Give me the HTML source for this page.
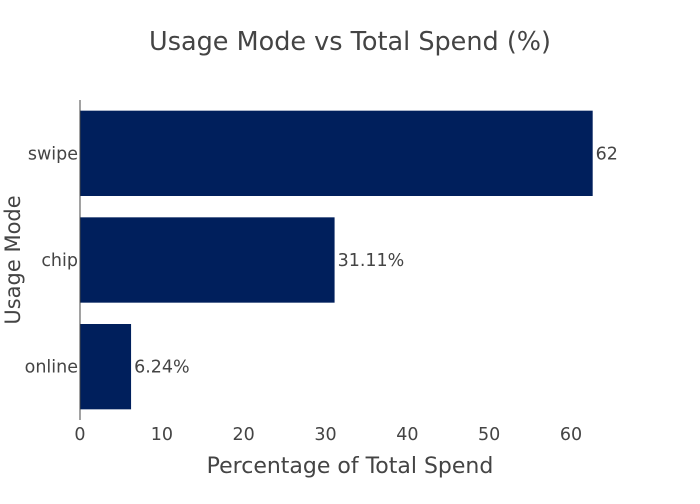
<!DOCTYPE html>
<html><head><meta charset="utf-8"><style>
body{margin:0;background:#fff;font-family:"DejaVu Sans",sans-serif;}
svg text{font-family:"DejaVu Sans","Liberation Sans",sans-serif;fill:#444;}
</style></head><body>
<svg id="chart" width="700" height="500">
<text x="350" y="50" text-anchor="middle" font-size="25.5">Usage Mode vs Total Spend (%)</text>
<g id="bars"></g>
<g id="xticks"></g>
<g id="yticks"></g>
<line x1="80" y1="100" x2="80" y2="420" stroke="#444" stroke-width="1"/>
<text x="350" y="473" text-anchor="middle" font-size="22">Percentage of Total Spend</text>
<text x="0" y="0" transform="translate(20,260) rotate(-90)" text-anchor="middle" font-size="21">Usage Mode</text>
</svg>
<script>
const categories = ["swipe","chip","online"];
const values = [62.65,31.11,6.24];
const valueLabels = ["62","31.11%","6.24%"];
const xTicks = [0,10,20,30,40,50,60];
const NS="http://www.w3.org/2000/svg";
const x0=80, pxPerUnit=(571-80)/60, plotTop=100, plotBottom=420;
const band=(plotBottom-plotTop)/categories.length;
function xs(v){return x0+v*pxPerUnit;}
function ys(i){return plotTop+band*i;}
const bars=document.getElementById('bars');
categories.forEach((c,i)=>{
  const r=document.createElementNS(NS,'rect');
  r.setAttribute('x',x0);r.setAttribute('y',ys(i)+band*0.1);
  r.setAttribute('width',xs(values[i])-x0);r.setAttribute('height',band*0.8);
  r.setAttribute('fill','#001f5c');
  
  
  bars.appendChild(r);
  const t=document.createElementNS(NS,'text');
  t.setAttribute('x',xs(values[i])+3);t.setAttribute('y',ys(i)+band/2+6);
  t.setAttribute('font-size','17.5');t.textContent=valueLabels[i];
  
  
  bars.appendChild(t);
  const l=document.createElementNS(NS,'text');
  l.setAttribute('x',78);l.setAttribute('y',ys(i)+band/2+6);
  l.setAttribute('text-anchor','end');l.setAttribute('font-size','17.5');l.textContent=c;
  
  
  document.getElementById('yticks').appendChild(l);
});
xTicks.forEach(v=>{
  const t=document.createElementNS(NS,'text');
  t.setAttribute('x',xs(v));t.setAttribute('y',440);
  t.setAttribute('text-anchor','middle');t.setAttribute('font-size','17.5');t.textContent=v;
  
  
  document.getElementById('xticks').appendChild(t);
});
</script>
</body></html>
